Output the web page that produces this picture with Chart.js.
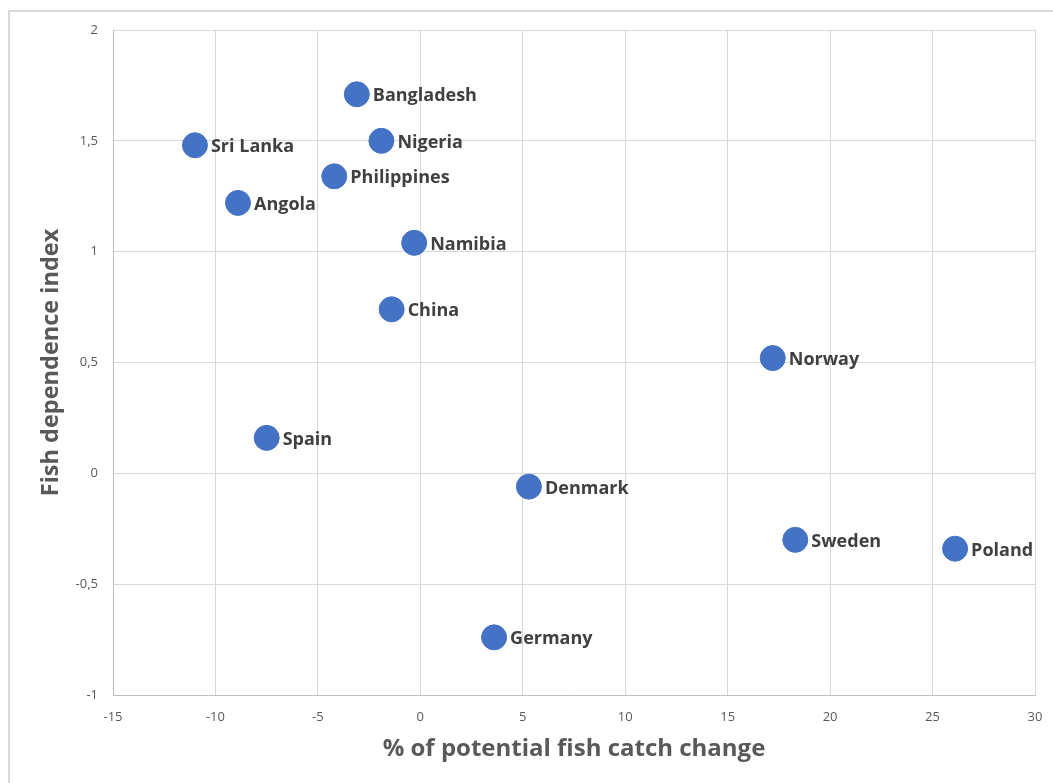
<!DOCTYPE html>
<html>
<head>
<meta charset="utf-8">
<script src="https://cdn.jsdelivr.net/npm/chart.js@4/dist/chart.umd.min.js"></script>
<style>
  body { margin: 0; background: #fff; overflow: hidden; }
  #frame { position: absolute; left: 8px; top: 10px; width: 1100px; height: 800px; border: 2px solid #d9d9d9; box-sizing: border-box; }
  #chart { position: absolute; left: 0; top: 0; }
</style>
</head>
<body>
<div id="frame"></div>
<canvas id="chart" width="1053" height="783"></canvas>
<script>
// countries and their values
const countries = ["Bangladesh", "Sri Lanka", "Nigeria", "Philippines", "Angola", "Namibia", "China",
  "Norway", "Spain", "Denmark", "Sweden", "Poland", "Germany"];
const catchChange = [-3.1, -11.0, -1.9, -4.2, -8.9, -0.3, -1.4, 17.2, -7.5, 5.3, 18.3, 26.1, 3.6];
const fishDependence = [1.71, 1.48, 1.50, 1.34, 1.22, 1.04, 0.74, 0.52, 0.16, -0.06, -0.30, -0.34, -0.74];

const points = countries.map((c, i) => ({ x: catchChange[i], y: fishDependence[i] }));

const fontFamily = "'Open Sans', Lato, sans-serif";
const gray = "#595959";

// country names drawn to the right of each marker
const pointLabels = {
  id: "pointLabels",
  afterDatasetsDraw(chart) {
    const ctx = chart.ctx;
    const meta = chart.getDatasetMeta(0);
    ctx.save();
    ctx.font = "bold 18px " + fontFamily;
    ctx.fillStyle = "#404040";
    ctx.textBaseline = "middle";
    ctx.textAlign = "left";
    meta.data.forEach((pt, i) => {
      ctx.fillText(countries[i], pt.x + 16, pt.y + 2);
    });
    ctx.restore();
  }
};

const comma = v => String(v).replace(".", ",");

// fixed axis sizes, no extra room for overhanging tick labels
function fixSize(scale) {
  if (scale.isHorizontal()) scale.height = 88;
  else scale.width = 113;
  scale.paddingLeft = 0;
  scale.paddingRight = 0;
  scale.paddingTop = 0;
  scale.paddingBottom = 0;
}

new Chart(document.getElementById("chart"), {
  type: "scatter",
  data: {
    datasets: [{
      data: points,
      backgroundColor: "#4472C4",
      borderColor: "#4472C4",
      borderWidth: 1,
      pointRadius: 12.5,
      pointHoverRadius: 12.5
    }]
  },
  options: {
    responsive: false,
    animation: false,
    layout: { padding: { top: 30, right: 18, left: 0, bottom: 0 } },
    plugins: { legend: { display: false }, tooltip: { enabled: false } },
    scales: {
      x: {
        type: "linear",
        min: -15,
        max: 30,
        ticks: { stepSize: 5, padding: 14, color: gray, font: { family: fontFamily, size: 13 }, callback: comma },
        grid: { color: "#d9d9d9", drawTicks: false },
        border: { color: "#bfbfbf" },
        title: { display: true, text: "% of potential fish catch change", color: gray,
          font: { family: fontFamily, size: 24, weight: "bold" }, padding: { bottom: 19 } },
        afterFit: fixSize
      },
      y: {
        min: -1,
        max: 2,
        ticks: { stepSize: 0.5, padding: 15, color: gray, font: { family: fontFamily, size: 13 }, callback: comma },
        grid: { color: "#d9d9d9", drawTicks: false },
        border: { color: "#bfbfbf" },
        title: { display: true, text: "Fish dependence index", color: gray,
          font: { family: fontFamily, size: 23.5, weight: "bold" }, padding: { top: 37 } },
        afterFit: fixSize
      }
    }
  },
  plugins: [pointLabels]
});
</script>
</body>
</html>
